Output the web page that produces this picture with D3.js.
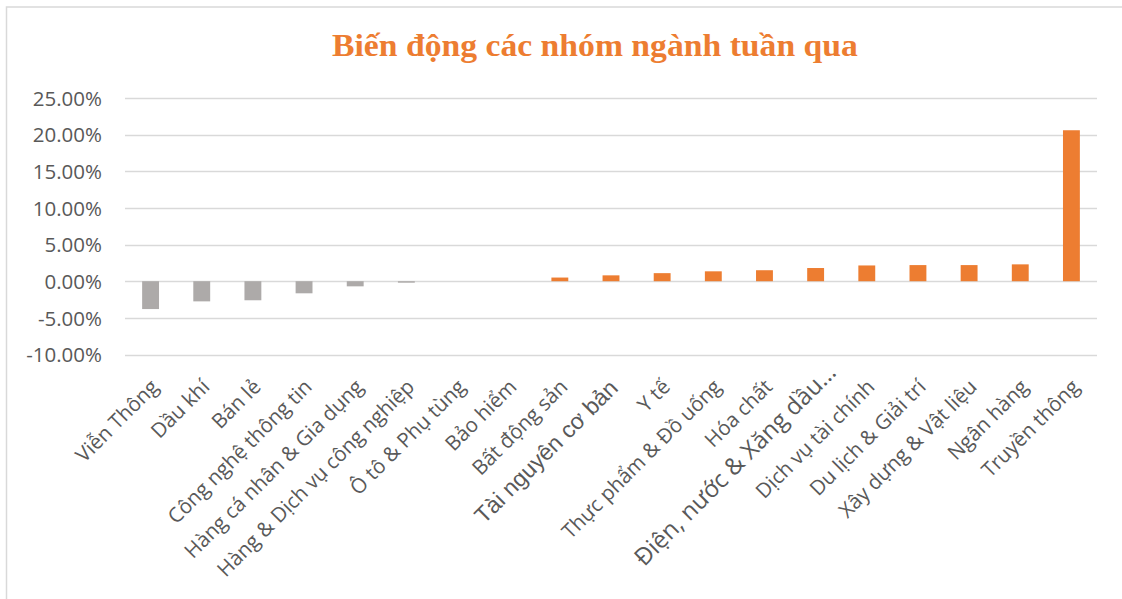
<!DOCTYPE html>
<html><head><meta charset="utf-8">
<script src="https://cdn.jsdelivr.net/npm/d3@7/dist/d3.min.js"></script>
<style>body{margin:0;background:#fff}svg{display:block}</style>
</head><body>
<svg id="c" width="1122" height="599"></svg>
<script>
const title = "Biến động các nhóm ngành tuần qua";
const categories = ["Viễn Thông","Dầu khí","Bán lẻ","Công nghệ thông tin","Hàng cá nhân & Gia dụng","Hàng & Dịch vụ công nghiệp","Ô tô & Phụ tùng","Bảo hiểm","Bất động sản","Tài nguyên cơ bản","Y tế","Thực phẩm & Đồ uống","Hóa chất","Điện, nước & Xăng dầu…","Dịch vụ tài chính","Du lịch & Giải trí","Xây dựng & Vật liệu","Ngân hàng","Truyền thông"];
const values = [-3.8,-2.75,-2.6,-1.65,-0.7,-0.2,0.0,0.0,0.5,0.8,1.1,1.35,1.5,1.8,2.15,2.2,2.2,2.3,20.6];
const yTicks = [-10,-5,0,5,10,15,20,25];

const svg = d3.select("#c");
svg.append("rect").attr("x",6.5).attr("y",7).attr("width",1130).attr("height",600)
  .attr("fill","none").attr("stroke","#D9D9D9").attr("stroke-width",1.5);

const x = d3.scaleBand().domain(categories).range([125,1097]).paddingInner(0.67).paddingOuter(0.335);
const y = d3.scaleLinear().domain([-10,25]).range([354.5,98]);

// grid
svg.append("g").selectAll("line").data(yTicks).join("line")
  .attr("x1",125).attr("x2",1097).attr("y1",d=>Math.round(y(d))+0.5).attr("y2",d=>Math.round(y(d))+0.5)
  .attr("stroke","#D9D9D9").attr("stroke-width",1.5);

// y axis
const yAxis = d3.axisLeft(y).tickValues(yTicks).tickSize(0).tickPadding(0).tickFormat(d=>d.toFixed(2)+"%");
const ga = svg.append("g").attr("transform","translate(102,0)").call(yAxis);
ga.select(".domain").remove();
ga.selectAll("text").attr("fill","#595959").style("font-family","Open Sans").style("font-size","20.5px").attr("dy","0.35em");

// bars
svg.append("g").selectAll("rect").data(categories).join("rect")
  .attr("x",d=>x(d)).attr("width",x.bandwidth())
  .attr("y",(d,i)=>y(Math.max(0,values[i])))
  .attr("height",(d,i)=>Math.abs(y(values[i])-y(0)))
  .attr("fill",(d,i)=>values[i]<0?"#ADAAA9":"#ED7D31");

// x labels
const xl = svg.append("g");
categories.forEach((c,i)=>{
  const cx = x(c)+x.bandwidth()/2;
  const alt = /ơ/.test(c);
  const big = /…/.test(c);
  xl.append("text").attr("transform",`translate(${big?cx+10:alt?cx-3:cx-1},${big?362:378}) rotate(-45)`)
    .attr("text-anchor","end").attr("dy","0.7em")
    .attr("fill","#595959")
    .style("font-family", alt ? "Liberation Sans" : "Open Sans")
    .style("font-size", big ? "24px" : alt ? "23px" : "20.5px")
    .text(c);
});

// title
const t = svg.append("text").attr("x",0).attr("y",0)
  .attr("fill","#ED7D31").style("font-family","Liberation Serif").style("font-weight","bold").style("font-size","32px")
  .text(title);
const w = t.node().getComputedTextLength();
const target = 526;
t.attr("transform",`translate(332,56) scale(${target/w},1)`);
</script>
</body></html>
